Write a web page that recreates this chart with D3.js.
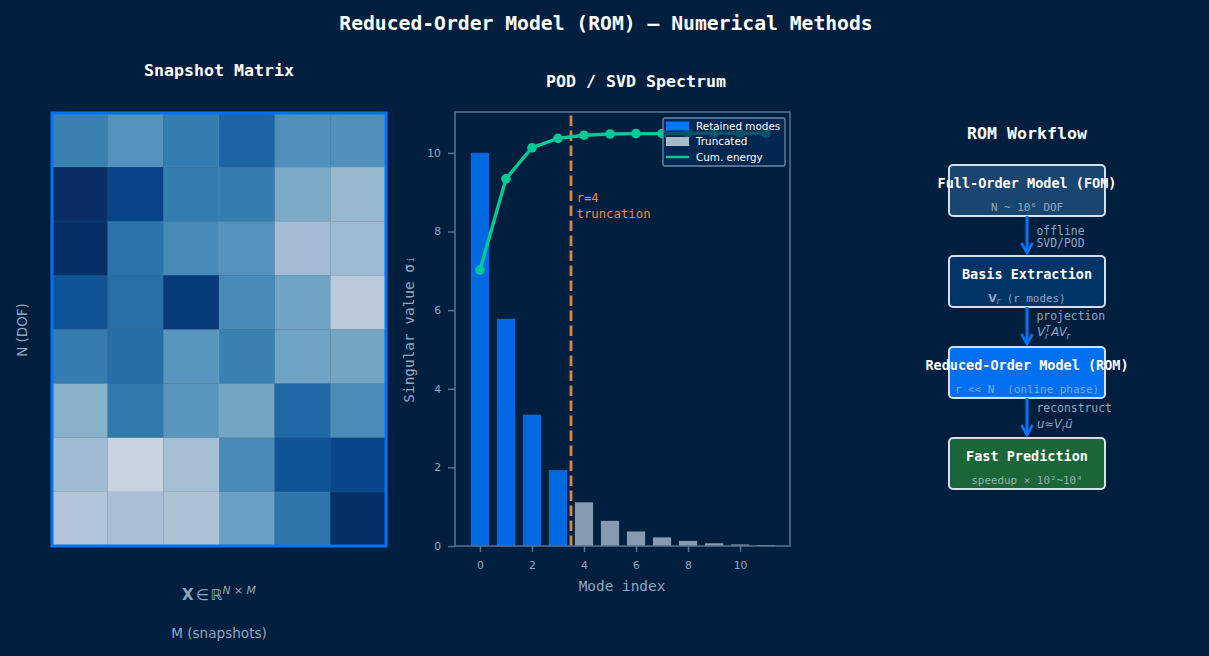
<!DOCTYPE html>
<html>
<head>
<meta charset="utf-8">
<script src="https://cdn.jsdelivr.net/npm/d3@7"></script>
<style>
html, body { margin: 0; padding: 0; background: #001f3f; }
svg { display: block; }
text { font-family: "DejaVu Sans", sans-serif; }
.mono { font-family: "DejaVu Sans Mono", monospace; }
</style>
</head>
<body>
<script>
// snapshot matrix (0 = darkest, 1 = lightest)
const snapshots = [
    [.38, .47, .36, .25, .46, .46],
    [.00, .10, .36, .36, .59, .69],
    [.01, .32, .43, .47, .73, .71],
    [.17, .30, .06, .43, .56, .86],
    [.36, .29, .49, .38, .56, .57],
    [.63, .34, .49, .57, .27, .44],
    [.72, .94, .74, .43, .17, .11],
    [.81, .76, .78, .54, .33, .01]
]
const modes = [0, 1, 2, 3, 4, 5, 6, 7, 8, 9, 10, 11]
const singular = [10, 5.78, 3.34, 1.93, 1.11, .64, .37, .22, .13, .07, .04, .025]
const cumEnergy = [7.02, 9.34, 10.13, 10.37, 10.45, 10.48, 10.49, 10.49, 10.5, 10.5, 10.5, 10.5]
const retained = 4
const xTicks = [0, 2, 4, 6, 8, 10]
const yTicks = [0, 2, 4, 6, 8, 10]

const stepNames = ["Full-Order Model (FOM)", "Basis Extraction", "Reduced-Order Model (ROM)", "Fast Prediction"]
const stepFills = ["#1a4570", "#003366", "#0070f0", "#1a6638"]
const arrowNotes = [["offline", "SVD/POD"], ["projection", null], ["reconstruct", null]]

const bg = "#001f3f", blue = "#0074f8", grey = "#8599b0", green = "#00c896", orange = "#d98548"
const muted = "#8fa8c0", spine = "#56758f"

const svg = d3.select("body").append("svg").attr("width", 1209).attr("height", 656)
svg.append("rect").attr("width", 1209).attr("height", 656).attr("fill", bg)

const label = (x, y, txt, size, fill, cls, weight) => svg.append("text")
    .attr("x", x).attr("y", y)
    .attr("text-anchor", "middle")
    .attr("class", cls || null)
    .attr("font-size", size)
    .attr("font-weight", weight || "normal")
    .attr("fill", fill)
    .text(txt)

label(606, 30, "Reduced-Order Model (ROM) — Numerical Methods", 19.7, "#fff", "mono", "bold")

// ---- snapshot matrix
label(219, 76, "Snapshot Matrix", 16.6, "#fff", "mono", "bold")

const col = d3.scaleBand().domain(d3.range(6)).range([52, 386])
const row = d3.scaleBand().domain(d3.range(8)).range([113, 546])
const blues = d3.scaleLinear()
    .domain(d3.range(9).map(i => i / 8))
    .range(d3.schemeBlues[9].slice().reverse())

svg.append("g").selectAll("g")
    .data(snapshots)
    .join("g")
    .each(function (vals, r) {
        d3.select(this).selectAll("rect")
            .data(vals)
            .join("rect")
            .attr("x", (d, c) => col(c))
            .attr("y", row(r))
            .attr("width", col.bandwidth())
            .attr("height", row.bandwidth())
            .attr("fill", d => blues(d))
            .attr("fill-opacity", .85)
            .attr("stroke", "#fff")
            .attr("stroke-opacity", .06)
            .attr("stroke-width", .8)
    })
svg.append("rect")
    .attr("x", 52).attr("y", 113).attr("width", 334).attr("height", 433)
    .attr("fill", "none").attr("stroke", blue).attr("stroke-width", 3)

label(0, 0, "N (DOF)", 13.5, muted).attr("transform", "translate(27,330) rotate(-90)")
label(219, 638, "M (snapshots)", 13.6, muted)

const matrixLabel = label(219, 600, "", 15, muted)
matrixLabel.append("tspan").attr("font-weight", "bold").text("X")
matrixLabel.append("tspan").attr("dx", 2).text("∈")
matrixLabel.append("tspan").attr("dx", 2).text("ℝ")
matrixLabel.append("tspan").attr("dy", -6).attr("font-size", 10.8).attr("font-style", "italic").text("N × M")

// ---- spectrum
label(636, 87, "POD / SVD Spectrum", 16.6, "#fff", "mono", "bold")

const x = d3.scaleLinear().domain([-0.96, 11.92]).range([455, 790])
const y = d3.scaleLinear().domain([0, 11.04]).range([546, 112])
const barW = x(0.7) - x(0)

svg.append("g").selectAll("rect")
    .data(modes)
    .join("rect")
    .attr("x", d => x(d) - barW / 2)
    .attr("y", d => y(singular[d]))
    .attr("width", barW)
    .attr("height", d => y(0) - y(singular[d]))
    .attr("fill", d => d < retained ? "#0068e0" : grey)

svg.append("line")
    .attr("x1", x(retained - .5)).attr("x2", x(retained - .5))
    .attr("y1", y.range()[0]).attr("y2", y.range()[1])
    .attr("stroke", orange).attr("stroke-width", 2.8)
    .attr("stroke-dasharray", "10.5,4.5")

const cumLine = d3.line().x(d => x(d)).y(d => y(cumEnergy[d]))
svg.append("path")
    .attr("d", cumLine(modes))
    .attr("fill", "none").attr("stroke", green).attr("stroke-width", 3.4)
svg.append("g").selectAll("circle")
    .data(modes)
    .join("circle")
    .attr("cx", d => x(d)).attr("cy", d => y(cumEnergy[d]))
    .attr("r", 4.8).attr("fill", green)

const note = svg.append("text").attr("class", "mono").attr("font-size", 12.3).attr("fill", "#e68c4a")
note.append("tspan").attr("x", 576.5).attr("y", 202).text("r=4")
note.append("tspan").attr("x", 576.5).attr("y", 217.5).text("truncation")

const xAxis = svg.append("g").attr("transform", `translate(0,${y(0)})`)
    .call(d3.axisBottom(x).tickValues(xTicks).tickFormat(d3.format("d")).tickSize(6).tickPadding(9))
const yAxis = svg.append("g").attr("transform", `translate(${x.range()[0]},0)`)
    .call(d3.axisLeft(y).tickValues(yTicks).tickFormat(d3.format("d")).tickSize(7).tickPadding(7))
for (const a of [xAxis, yAxis]) {
    a.selectAll("path").attr("stroke", spine).attr("stroke-width", 1.5).attr("d", null)
    a.selectAll("line").attr("stroke", spine).attr("stroke-width", 1.5)
    a.selectAll("text").attr("fill", muted).attr("font-size", 10.8)
        .attr("font-family", "DejaVu Sans")
}
svg.append("rect")
    .attr("x", x.range()[0]).attr("y", y.range()[1])
    .attr("width", x.range()[1] - x.range()[0]).attr("height", y.range()[0] - y.range()[1])
    .attr("fill", "none").attr("stroke", spine).attr("stroke-width", 1.5)

label(622, 591, "Mode index", 14.4, muted, "mono")
label(0, 0, "Singular value σᵢ", 14.4, muted, "mono")
    .attr("transform", "translate(414,329) rotate(-90)")

// legend
svg.append("rect")
    .attr("x", 663).attr("y", 118).attr("width", 122).attr("height", 48).attr("rx", 2)
    .attr("fill", "#002b56").attr("fill-opacity", .75)
    .attr("stroke", "#6b8aa8").attr("stroke-width", 1.3)
const legendItems = ["Retained modes", "Truncated", "Cum. energy"]
const legendY = d3.scalePoint().domain(legendItems).range([126, 157])
svg.append("rect").attr("x", 666).attr("y", legendY("Retained modes") - 4.5).attr("width", 23).attr("height", 9).attr("fill", "#0078ff")
svg.append("rect").attr("x", 666).attr("y", legendY("Truncated") - 4.5).attr("width", 23).attr("height", 9).attr("fill", "#a9b9cc")
svg.append("line").attr("x1", 666).attr("x2", 689).attr("y1", legendY("Cum. energy")).attr("y2", legendY("Cum. energy"))
    .attr("stroke", green).attr("stroke-width", 2.5)
svg.append("g").selectAll("text")
    .data(legendItems)
    .join("text")
    .attr("x", 696).attr("y", d => legendY(d) + 3.7)
    .attr("font-size", 10.4).attr("fill", "#fff")
    .text(d => d)

// ---- workflow
label(1027, 139, "ROM Workflow", 16.6, "#fff", "mono", "bold")

const stepY = d3.scalePoint().domain(d3.range(4)).range([165, 438])
const boxW = 156, boxH = 51, boxX = 949, midX = boxX + boxW / 2

stepNames.forEach((name, i) => {
    svg.append("rect")
        .attr("x", boxX).attr("y", stepY(i)).attr("width", boxW).attr("height", boxH).attr("rx", 4)
        .attr("fill", stepFills[i]).attr("stroke", "#d5e0ec").attr("stroke-width", 2)
})

svg.append("defs").append("marker")
    .attr("id", "head").attr("viewBox", "-2 -2 16 16").attr("refX", 10).attr("refY", 6)
    .attr("markerUnits", "userSpaceOnUse").attr("markerWidth", 16).attr("markerHeight", 16).attr("orient", "auto")
    .append("path").attr("d", "M0,0.5 L10,6 L0,11.5").attr("fill", "none").attr("stroke", blue).attr("stroke-width", 2.6)

arrowNotes.forEach((n, i) => {
    svg.append("line")
        .attr("x1", midX).attr("x2", midX)
        .attr("y1", stepY(i) + boxH).attr("y2", stepY(i + 1) - 3)
        .attr("stroke", blue).attr("stroke-width", 3)
        .attr("marker-end", "url(#head)")
    const t = svg.append("text").attr("class", "mono").attr("font-size", 11.4).attr("fill", muted)
    t.append("tspan").attr("x", 1036.5).attr("y", stepY(i) + boxH + 19 - (i === 1 ? 6 : i === 2 ? 5 : 0)).text(n[0])
    if (n[1]) t.append("tspan").attr("x", 1036.5).attr("y", stepY(i) + boxH + 31).text(n[1])
})

// math notes between the boxes
const proj = svg.append("text").attr("x", 1037).attr("y", 336).attr("font-size", 11.8).attr("fill", muted).attr("font-style", "italic")
proj.append("tspan").text("V")
proj.append("tspan").attr("dy", 3).attr("font-size", 8).text("r")
proj.append("tspan").attr("dy", -7).attr("dx", -3).attr("font-size", 8).text("T")
proj.append("tspan").attr("dy", 4).attr("dx", 1).text("AV")
proj.append("tspan").attr("dy", 3).attr("font-size", 8).text("r")
const recon = svg.append("text").attr("x", 1037).attr("y", 428).attr("font-size", 11.6).attr("fill", muted).attr("font-style", "italic")
recon.append("tspan").text("u≈V")
recon.append("tspan").attr("dy", 3).attr("font-size", 8).text("r")
recon.append("tspan").attr("dy", -3).text("ũ")

// box texts go over the frames and arrows
stepNames.forEach((name, i) => {
    label(midX, stepY(i) + 23, name, 13.5, "#fff", "mono", "bold")
})
const subY = i => stepY(i) + 46
label(midX, subY(0), "N ~ 10⁶ DOF", 10.9, muted, "mono")
const vr = label(midX, subY(1), "", 10.9, muted, "mono")
vr.append("tspan").attr("font-family", "DejaVu Sans").attr("font-weight", "bold").text("V")
vr.append("tspan").attr("font-family", "DejaVu Sans").attr("font-style", "italic").attr("font-size", 8).attr("dy", 2).text("r")
vr.append("tspan").attr("dy", -2).text(" (r modes)")
label(midX, subY(2), "r << N  (online phase)", 10.9, "#78aee8", "mono").style("white-space", "pre")
label(midX, subY(3), "speedup × 10²~10⁴", 10.9, "#93b3ab", "mono")
</script>
</body>
</html>
